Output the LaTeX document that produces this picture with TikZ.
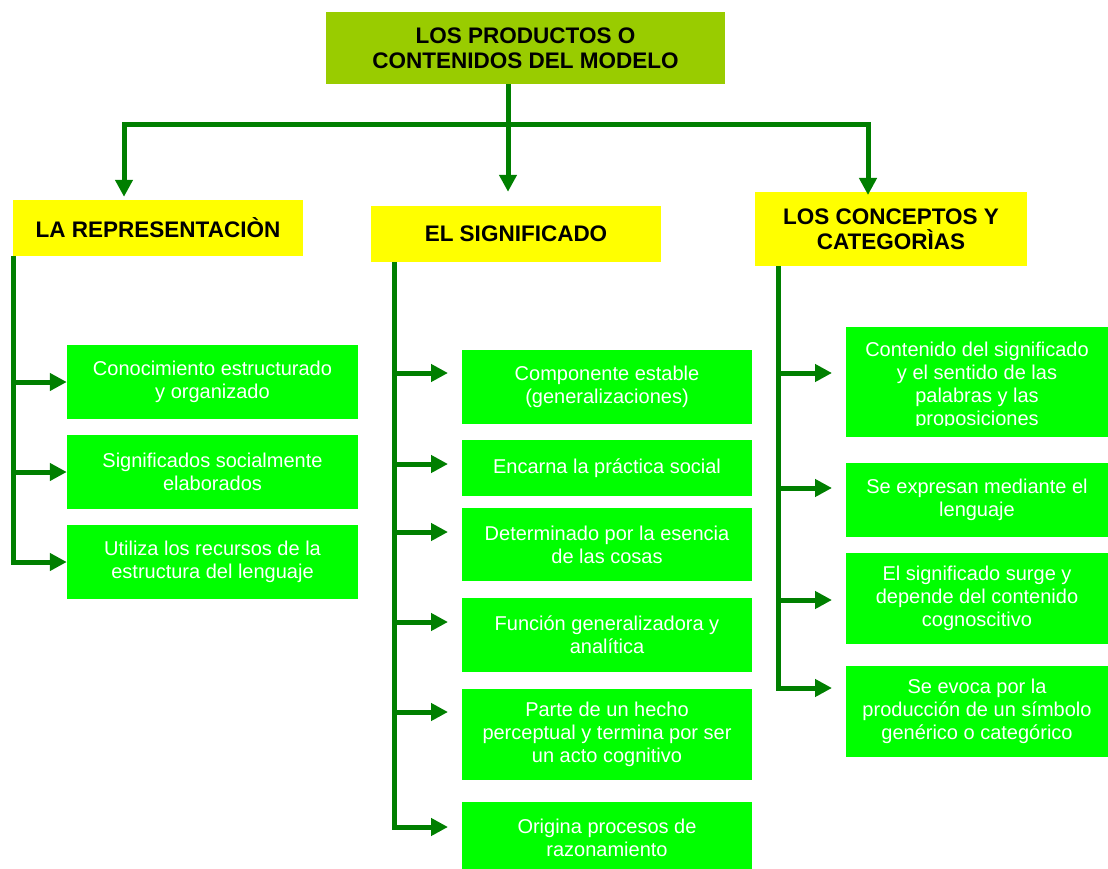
\documentclass[tikz,border=0pt]{standalone}
\usepackage{fontspec}
\setmainfont{Liberation Sans}
\usetikzlibrary{arrows.meta}
\definecolor{topc}{HTML}{99CC00}
\definecolor{yel}{HTML}{FFFF00}
\definecolor{gfill}{HTML}{00FF00}
\definecolor{lnc}{HTML}{007F00}
\tikzset{
  topbox/.style={fill=topc, inner sep=0pt, align=center, font=\fontsize{22.5}{25}\selectfont\bfseries},
  hbox/.style={fill=yel, inner sep=0pt, align=center, font=\fontsize{22.5}{25}\selectfont\bfseries},
  gb/.style={fill=gfill, text=white, inner sep=0pt, align=center, font=\fontsize{20}{23}\selectfont},
  gtext/.style={text=white, inner sep=0pt, align=center, font=\fontsize{20}{23}\selectfont},
  ln/.style={draw=lnc, line width=5pt},
  arr/.style={ln, -{Triangle[length=17pt,width=17pt]}},
}
\begin{document}
\begin{tikzpicture}[x=1pt,y=-1pt]
\useasboundingbox (0,0) rectangle (1108,869);
% top
\node[topbox, minimum width=399pt, minimum height=72pt] (top) at (525.5,48) {LOS PRODUCTOS O\\CONTENIDOS DEL MODELO};
% headers
\node[hbox, minimum width=290pt, minimum height=56pt] (h1) at (158,228) {LA REPRESENTACIÒN};
\node[hbox, minimum width=290pt, minimum height=56pt] (h2) at (516,234) {EL SIGNIFICADO};
\node[hbox, minimum width=272pt, minimum height=74pt] (h3) at (891,229) {LOS CONCEPTOS Y\\CATEGORÌAS};
% left boxes
\node[gb, minimum width=291pt, minimum height=74pt] (l1) at (212.5,382) {Conocimiento estructurado\\y organizado};
\node[gb, minimum width=291pt, minimum height=74pt] (l2) at (212.5,472) {Significados socialmente\\elaborados};
\node[gb, minimum width=291pt, minimum height=74pt] (l3) at (212.5,562) {Utiliza los recursos de la\\estructura del lenguaje};
% middle boxes
\node[gb, minimum width=290pt, minimum height=74pt] (m1) at (607,387) {Componente estable\\(generalizaciones)};
\node[gb, minimum width=290pt, minimum height=56pt] (m2) at (607,468) {Encarna la práctica social};
\node[gb, minimum width=290pt, minimum height=73pt] (m3) at (607,544.5) {Determinado por la esencia\\de las cosas};
\node[gb, minimum width=290pt, minimum height=74pt] (m4) at (607,635) {Función generalizadora y\\analítica};
\node[gb, minimum width=290pt, minimum height=91pt] (m5) at (607,734.5) {Parte de un hecho\\perceptual y termina por ser\\un acto cognitivo};
\node[gb, minimum width=290pt, minimum height=72pt] (m6) at (607,838) {Origina procesos de\\razonamiento};
% right boxes
\node[fill=gfill, inner sep=0pt, minimum width=262pt, minimum height=110pt] (r1) at (977,382) {};
\begin{scope}
  \clip (846,327) rectangle (1108,425.5);
  \node[gtext] (r1t) at (977,386) {Contenido del significado\\y el sentido de las\\palabras y las\\proposiciones};
\end{scope}
\node[gb, minimum width=262pt, minimum height=74pt] (r2) at (977,500) {Se expresan mediante el\\lenguaje};
\node[gb, minimum width=262pt, minimum height=91pt] (r3) at (977,598.5) {El significado surge y\\depende del contenido\\cognoscitivo};
\node[gb, minimum width=262pt, minimum height=91pt] (r4) at (977,711.5) {Se evoca por la\\producción de un símbolo\\genérico o categórico};
% top connectors
\coordinate (j) at (508,125);
\coordinate (jl) at (124,125);
\coordinate (jr) at (868,125);
\draw[arr] (top.south -| j) -- (j |- h2.north) [shorten >=14pt];
\draw[arr, line join=miter] (j) -- (jl) -- (jl |- h1.north) [shorten >=3pt];
\draw[arr, line join=miter] (j) -- (jr) -- (868,195);
% left trunk
\coordinate (lt) at (13.5,256);
\draw[arr, line join=miter] (lt) |- (l3.west);
\draw[arr] (lt |- l1.west) -- (l1.west);
\draw[arr] (lt |- l2.west) -- (l2.west);
% middle trunk
\coordinate (mt) at (394,262);
\coordinate (ma1) at (448,373);
\coordinate (ma2) at (448,464);
\coordinate (ma3) at (448,532);
\coordinate (ma4) at (448,622);
\coordinate (ma5) at (448,712);
\coordinate (ma6) at (448,827);
\draw[arr, line join=miter] (mt) |- (ma6);
\foreach \k in {1,...,5} \draw[arr] (mt |- ma\k) -- (ma\k);
% right trunk
\coordinate (rt) at (778,266);
\coordinate (ra1) at (832,373);
\coordinate (ra2) at (832,488);
\coordinate (ra3) at (832,600);
\coordinate (ra4) at (832,688);
\draw[arr, line join=miter] (rt) |- (ra4);
\foreach \k in {1,...,3} \draw[arr] (rt |- ra\k) -- (ra\k);
\end{tikzpicture}
\end{document}
